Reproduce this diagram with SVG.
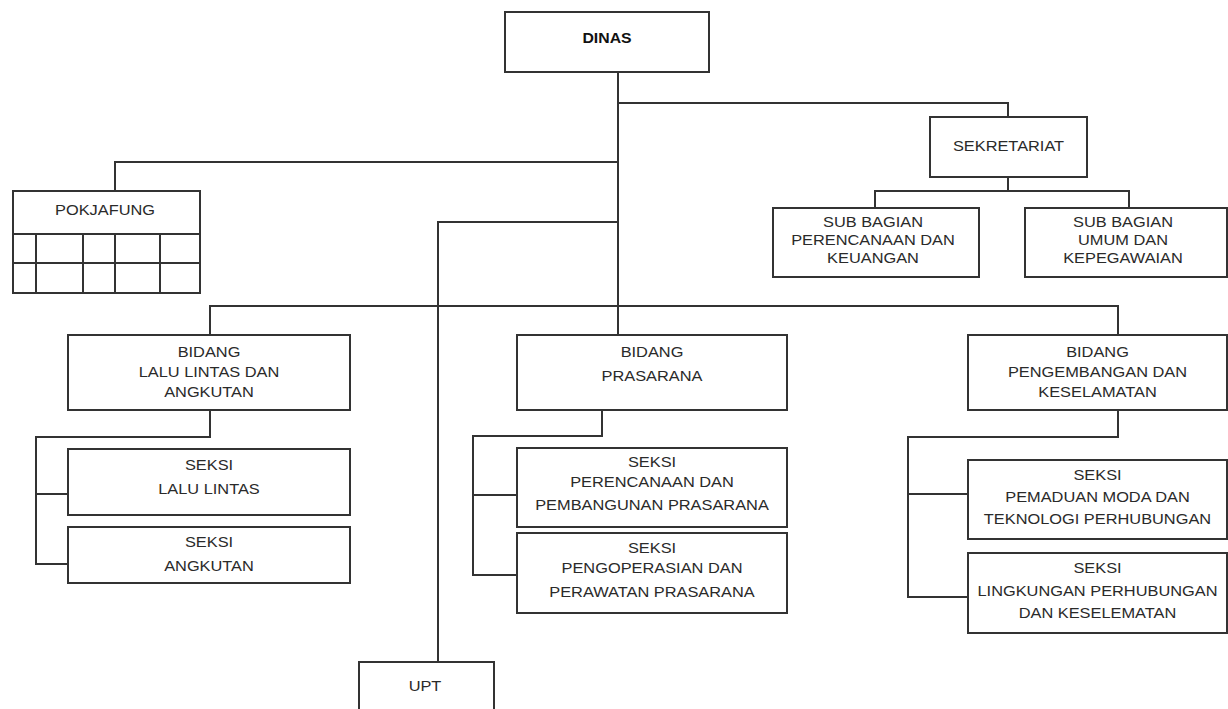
<svg xmlns="http://www.w3.org/2000/svg" width="1228" height="709" viewBox="0 0 1228 709">
<style>
.box{fill:#fff;stroke:#333;stroke-width:2}
.ln{fill:none;stroke:#333;stroke-width:2}
.t{font-family:"Liberation Sans",Arial,sans-serif;font-size:14px;fill:#2a2a2a;text-anchor:middle}
.b{font-weight:bold;fill:#111}
</style>
<rect width="1228" height="709" fill="#fff"/>
<g id="connectors" class="ln">
<path d="M618 72 V335"/>
<path d="M618 103 H1008 V117"/>
<path d="M1008 177 V191 M875 208 V191 H1129 V208"/>
<path d="M618 162 H115 V191"/>
<path d="M618 222 H438 V662"/>
<path d="M210 335 V306 H1118 V335"/>
<path d="M210 410 V437 H36 V564 H68 M36 494 H68"/>
<path d="M602 410 V436 H473 V575 H517 M473 495 H517"/>
<path d="M1118 410 V437 H908 V597 H968 M908 494 H968"/>
</g>
<g id="dinas">
<rect class="box" x="505" y="12" width="204" height="60"/>
<text class="t b" transform="matrix(1.13 0 0 1 607 0)" x="0" y="43.5">DINAS</text>
</g>
<g id="sekretariat">
<rect class="box" x="930" y="117" width="157" height="60"/>
<text class="t" transform="matrix(1.17 0 0 1 1008.5 0)" x="0" y="151.5">SEKRETARIAT</text>
</g>
<g id="subbag-perencanaan">
<rect class="box" x="773" y="208" width="206" height="69"/>
<text class="t" transform="matrix(1.17 0 0 1 873 0)" x="0"><tspan x="0" y="227.5">SUB BAGIAN</tspan><tspan x="0" y="245.5">PERENCANAAN DAN</tspan><tspan x="0" y="263">KEUANGAN</tspan></text>
</g>
<g id="subbag-umum">
<rect class="box" x="1025" y="208" width="202" height="69"/>
<text class="t" transform="matrix(1.17 0 0 1 1123 0)" x="0"><tspan x="0" y="227.5">SUB BAGIAN</tspan><tspan x="0" y="245.5">UMUM DAN</tspan><tspan x="0" y="263">KEPEGAWAIAN</tspan></text>
</g>
<g id="pokjafung">
<rect class="box" x="13" y="191" width="187" height="102"/>
<path class="ln" d="M13 234 H200 M13 263 H200 M36 234 V293 M83 234 V293 M115 234 V293 M160 234 V293"/>
<text class="t" transform="matrix(1.17 0 0 1 105 0)" x="0" y="215">POKJAFUNG</text>
</g>
<g id="bidang-lla">
<rect class="box" x="68" y="335" width="282" height="75"/>
<text class="t" transform="matrix(1.17 0 0 1 209 0)" x="0"><tspan x="0" y="357">BIDANG</tspan><tspan x="0" y="377">LALU LINTAS DAN</tspan><tspan x="0" y="397">ANGKUTAN</tspan></text>
</g>
<g id="seksi-lalulintas">
<rect class="box" x="68" y="449" width="282" height="66"/>
<text class="t" transform="matrix(1.17 0 0 1 209 0)" x="0"><tspan x="0" y="470">SEKSI</tspan><tspan x="0" y="494">LALU LINTAS</tspan></text>
</g>
<g id="seksi-angkutan">
<rect class="box" x="68" y="527" width="282" height="56"/>
<text class="t" transform="matrix(1.17 0 0 1 209 0)" x="0"><tspan x="0" y="547">SEKSI</tspan><tspan x="0" y="571">ANGKUTAN</tspan></text>
</g>
<g id="bidang-prasarana">
<rect class="box" x="517" y="335" width="270" height="75"/>
<text class="t" transform="matrix(1.17 0 0 1 652 0)" x="0"><tspan x="0" y="357">BIDANG</tspan><tspan x="0" y="381">PRASARANA</tspan></text>
</g>
<g id="seksi-perencanaan">
<rect class="box" x="517" y="448" width="270" height="79"/>
<text class="t" transform="matrix(1.17 0 0 1 652 0)" x="0"><tspan x="0" y="467">SEKSI</tspan><tspan x="0" y="487">PERENCANAAN DAN</tspan><tspan x="0" y="510">PEMBANGUNAN PRASARANA</tspan></text>
</g>
<g id="seksi-pengoperasian">
<rect class="box" x="517" y="533" width="270" height="80"/>
<text class="t" transform="matrix(1.17 0 0 1 652 0)" x="0"><tspan x="0" y="553">SEKSI</tspan><tspan x="0" y="573">PENGOPERASIAN DAN</tspan><tspan x="0" y="597">PERAWATAN PRASARANA</tspan></text>
</g>
<g id="bidang-pengembangan">
<rect class="box" x="968" y="335" width="259" height="75"/>
<text class="t" transform="matrix(1.17 0 0 1 1097.5 0)" x="0"><tspan x="0" y="357">BIDANG</tspan><tspan x="0" y="377">PENGEMBANGAN DAN</tspan><tspan x="0" y="397">KESELAMATAN</tspan></text>
</g>
<g id="seksi-pemaduan">
<rect class="box" x="968" y="460" width="259" height="79"/>
<text class="t" transform="matrix(1.17 0 0 1 1097.5 0)" x="0"><tspan x="0" y="480">SEKSI</tspan><tspan x="0" y="502">PEMADUAN MODA DAN</tspan><tspan x="0" y="524">TEKNOLOGI PERHUBUNGAN</tspan></text>
</g>
<g id="seksi-lingkungan">
<rect class="box" x="968" y="553" width="259" height="80"/>
<text class="t" transform="matrix(1.17 0 0 1 1097.5 0)" x="0"><tspan x="0" y="573">SEKSI</tspan><tspan x="0" y="596">LINGKUNGAN PERHUBUNGAN</tspan><tspan x="0" y="618">DAN KESELEMATAN</tspan></text>
</g>
<g id="upt">
<rect class="box" x="359" y="662" width="135" height="60"/>
<text class="t" transform="matrix(1.17 0 0 1 425 0)" x="0" y="691">UPT</text>
</g>
</svg>
